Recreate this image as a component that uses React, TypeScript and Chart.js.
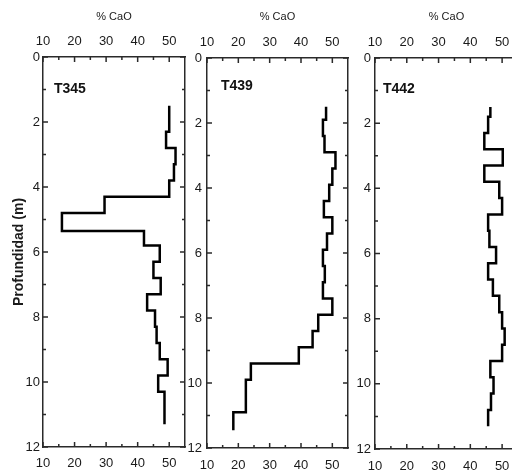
import { useEffect, useRef } from "react";
import { Chart, registerables } from "chart.js";

Chart.register(...registerables);

// ---- tick values ----
const xTickValues = [10, 20, 30, 40, 50];
const xMinorValues = [15, 25, 35, 45];
const yTickValues = [0, 2, 4, 6, 8, 10, 12];
const yMinorValues = [1, 3, 5, 7, 9, 11];

// ---- T345 ----
const t345Tops = [1.5, 2.3, 2.8, 3.3, 3.8, 4.3, 4.8, 5.35, 5.8, 6.3, 6.8, 7.3, 7.8, 8.3, 8.8, 9.3, 9.8, 10.3];
const t345Cao = [50, 49, 52, 51.5, 50, 29.5, 16, 42, 47, 45, 47.3, 43, 45.5, 46, 47, 49.5, 46.5, 48.5];
const t345End = 11.3;

// ---- T439 ----
const t439Tops = [1.5, 1.9, 2.4, 2.9, 3.4, 3.9, 4.4, 4.9, 5.4, 5.9, 6.4, 6.9, 7.4, 7.9, 8.4, 8.9, 9.4, 9.9, 10.9];
const t439Cao = [48, 47, 47.5, 51, 50, 49, 47.3, 50, 48.3, 47, 47.6, 47, 50, 45.5, 43.7, 39.3, 24, 22.4, 18.4];
const t439End = 11.45;

// ---- T442 ----
const t442Tops = [1.5, 1.8, 2.3, 2.8, 3.3, 3.8, 4.3, 4.8, 5.3, 5.8, 6.3, 6.8, 7.3, 7.8, 8.3, 8.8, 9.3, 9.8, 10.3, 10.8];
const t442Cao = [46.3, 45.6, 44.4, 50.2, 44.4, 49.1, 50, 45.6, 46, 48.1, 45.6, 47.1, 49.1, 50, 50.8, 50, 46.3, 47.3, 46.5, 45.6];
const t442End = 11.3;

const NARROW = "'Liberation Sans Narrow', 'Arial Narrow', 'Liberation Sans', Arial, sans-serif";
const SANS = "'Liberation Sans', Arial, sans-serif";
const AXIS_COLOR = "#2a2a2a";

const frameTicks = {
  id: "frameTicks",
  afterDraw(chart: any, _args: any, opts: any) {
    const { ctx, chartArea } = chart;
    const { left, right, top, bottom } = chartArea;
    const xs = chart.scales.x;
    const ys = chart.scales.y;
    ctx.save();
    ctx.strokeStyle = AXIS_COLOR;
    ctx.lineWidth = 1.5;
    ctx.beginPath();
    const xt = (vals: number[], len: number) => {
      vals.forEach((v) => {
        const px = xs.getPixelForValue(v);
        ctx.moveTo(px, bottom);
        ctx.lineTo(px, bottom - len);
        ctx.moveTo(px, top);
        ctx.lineTo(px, top + len);
      });
    };
    const yt = (vals: number[], len: number) => {
      vals.forEach((v) => {
        const py = ys.getPixelForValue(v);
        ctx.moveTo(left, py);
        ctx.lineTo(left + len, py);
        ctx.moveTo(right, py);
        ctx.lineTo(right - len, py);
      });
    };
    xt(xTickValues, 5);
    xt(xMinorValues, 3);
    yt(yTickValues, 5);
    yt(yMinorValues, 3);
    ctx.stroke();
    ctx.fillStyle = "#111";
    ctx.font = `bold 14px ${NARROW}`;
    ctx.textBaseline = "middle";
    ctx.textAlign = "left";
    ctx.fillText(opts.label, left + opts.dx, top + opts.dy);
    ctx.restore();
  },
};

type Panel = {
  label: string;
  tops: number[];
  cao: number[];
  end: number;
  canvasLeft: number;
  canvasWidth: number;
  leftW: number;
  topH: number;
  bottomH: number;
  yPad: number;
  bPad: number;
  dx: number;
  dy: number;
  yTitle: boolean;
};

const panels: Panel[] = [
  { label: "T345", tops: t345Tops, cao: t345Cao, end: t345End, canvasLeft: 0, canvasWidth: 195, leftW: 43, topH: 57, bottomH: 28, yPad: 3, bPad: 8.5, dx: 11, dy: 32, yTitle: true },
  { label: "T439", tops: t439Tops, cao: t439Cao, end: t439End, canvasLeft: 188, canvasWidth: 170, leftW: 19, topH: 58, bottomH: 27, yPad: 5, bPad: 9.5, dx: 14, dy: 28, yTitle: false },
  { label: "T442", tops: t442Tops, cao: t442Cao, end: t442End, canvasLeft: 357, canvasWidth: 171, leftW: 18, topH: 58, bottomH: 26, yPad: 4, bPad: 10, dx: 8, dy: 31, yTitle: false },
];

function PanelChart({ p }: { p: Panel }) {
  const ref = useRef<HTMLCanvasElement | null>(null);
  useEffect(() => {
    if (!ref.current) return;
    const pts = p.tops.map((d, i) => ({ x: p.cao[i], y: d }));
    pts.push({ x: p.cao[p.cao.length - 1], y: p.end });
    const tickFont = { family: NARROW, size: 13 };
    const setX = (s: any) => {
      s.ticks = xTickValues.map((v) => ({ value: v }));
    };
    const setY = (s: any) => {
      s.ticks = yTickValues.map((v) => ({ value: v }));
    };
    const border = { display: true, color: AXIS_COLOR, width: 1.5 };
    const grid = { display: false, drawTicks: false };
    const chart = new Chart(ref.current, {
      type: "scatter",
      data: {
        datasets: [
          {
            data: pts,
            showLine: true,
            stepped: "after",
            borderColor: "#000",
            borderWidth: 2.5,
            pointRadius: 0,
            fill: false,
          } as any,
        ],
      },
      options: {
        responsive: false,
        animation: false,
        layout: { padding: 0 },
        plugins: {
          legend: { display: false },
          tooltip: { enabled: false },
          frameTicks: { label: p.label, dx: p.dx, dy: p.dy },
        } as any,
        scales: {
          x: {
            type: "linear",
            position: "bottom",
            min: 10,
            max: 55,
            afterBuildTicks: setX,
            afterFit: (s: any) => {
              s.height = p.bottomH;
            },
            grid,
            border,
            ticks: { padding: p.bPad, color: "#1a1a1a", font: tickFont, autoSkip: false, maxRotation: 0 },
          },
          x2: {
            type: "linear",
            position: "top",
            min: 10,
            max: 55,
            afterBuildTicks: setX,
            afterFit: (s: any) => {
              s.height = p.topH;
            },
            grid,
            border,
            ticks: { padding: 7.5, color: "#1a1a1a", font: tickFont, autoSkip: false, maxRotation: 0 },
            title: {
              display: true,
              text: "% CaO",
              color: "#1a1a1a",
              font: { family: SANS, size: 11 },
              padding: { top: 10, bottom: 0 },
            },
          },
          y: {
            type: "linear",
            position: "left",
            reverse: true,
            min: 0,
            max: 12,
            afterBuildTicks: setY,
            afterFit: (s: any) => {
              s.width = p.leftW;
            },
            grid,
            border,
            ticks: { padding: p.yPad, color: "#1a1a1a", font: tickFont, autoSkip: false },
            title: {
              display: p.yTitle,
              text: "Profundidad (m)",
              color: "#1a1a1a",
              font: { family: SANS, size: 14, weight: "bold" },
              padding: { top: 11, bottom: 0 },
            },
          },
          y2: {
            type: "linear",
            position: "right",
            reverse: true,
            min: 0,
            max: 12,
            afterBuildTicks: setY,
            afterFit: (s: any) => {
              s.width = 10;
            },
            grid,
            border,
            ticks: { display: false },
          },
        } as any,
      },
      plugins: [frameTicks],
    });
    return () => chart.destroy();
  }, [p]);
  return (
    <canvas
      ref={ref}
      width={p.canvasWidth}
      height={475}
      style={{ position: "absolute", left: p.canvasLeft, top: 0, width: p.canvasWidth, height: 475 }}
    />
  );
}

export default function App() {
  return (
    <div
      style={{
        position: "absolute",
        left: 0,
        top: 0,
        width: 512,
        height: 475,
        overflow: "hidden",
        background: "#fff",
      }}
    >
      {panels.map((p) => (
        <PanelChart key={p.label} p={p} />
      ))}
    </div>
  );
}
